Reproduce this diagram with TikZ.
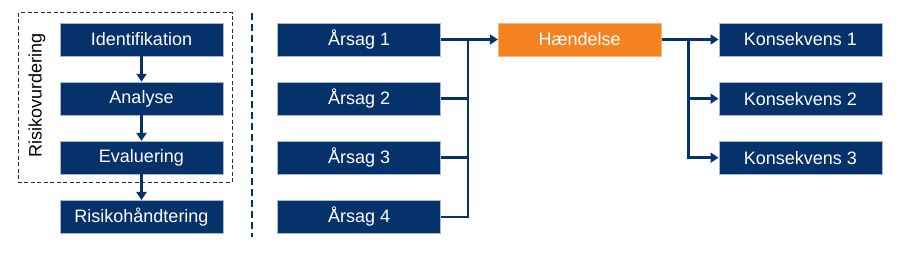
\documentclass[tikz,border=0pt]{standalone}
\usepackage{fontspec}
\setmainfont{Liberation Sans}
\usepackage{xcolor}
\usetikzlibrary{arrows.meta, positioning, calc}

\definecolor{navy}{RGB}{6,50,108}
\definecolor{hendorange}{RGB}{245,130,32}

\begin{document}
\begin{tikzpicture}[
    node distance=25.5pt and 54pt,
    block/.style={rectangle, draw=navy!35, line width=0.6pt, fill=navy, text=white, minimum width=163pt, minimum height=33pt, inner sep=0pt, font=\fontsize{18}{21}\selectfont},
    line/.style={draw=navy, line width=2.4pt},
    arrow/.style={line, -{Triangle[length=8pt,width=10pt]}},
    frame/.style={draw=navy, line width=1.1pt, dash pattern=on 4pt off 2.5pt},
    sep/.style={draw=navy, line width=2.6pt, dash pattern=on 7pt off 4pt}
]
\useasboundingbox (0,0) rectangle (898pt,-253pt);

% Left: risk process
\node [block] (ident) at (141.5pt,-39.5pt) {Identifikation};
\node [block, below=of ident] (anal) {Analyse};
\node [block, below=of anal] (eval) {Evaluering};
\node [block, below=of eval] (handt) {Risikoh\aa ndtering};
\node [rotate=90, font=\fontsize{18}{21}\selectfont] (lbl) at (37pt,-95pt) {Risikovurdering};

\draw [arrow] (ident) -- (anal);
\draw [arrow] (anal) -- (eval);
\draw [arrow] (eval) -- (handt);
\draw [frame] ($(ident.north west)+(-41pt,10pt)$) rectangle ($(eval.south east)+(9pt,-8pt)$);

% Separator
\coordinate (septop) at (252pt,-13pt);
\coordinate (sepbot) at (252pt,-237pt);
\draw [sep] (septop) -- (sepbot);

% Right: bow-tie
\node [block, right=of ident] (a1) {\AA rsag 1};
\node [block, below=of a1] (a2) {\AA rsag 2};
\node [block, below=of a2] (a3) {\AA rsag 3};
\node [block, below=of a3] (a4) {\AA rsag 4};
\node [block, right=57pt of a1, fill=hendorange, draw=hendorange!60] (hend) {H\ae ndelse};
\node [block, right=57pt of hend] (k1) {Konsekvens 1};
\node [block, below=of k1] (k2) {Konsekvens 2};
\node [block, below=of k2] (k3) {Konsekvens 3};

\coordinate (jin) at ($(a1.east)+(27pt,0)$);
\coordinate (jout) at ($(hend.east)+(27pt,0)$);

\draw [arrow] (a1) -- (hend);
\draw [line] (a4.east) -| (jin);
\draw [line] (a2.east) -- (a2.east -| jin);
\draw [line] (a3.east) -- (a3.east -| jin);

\draw [arrow] (hend) -- (k1);
\draw [arrow] (jout) |- (k3);
\draw [arrow] (jout |- k2) -- (k2);
\end{tikzpicture}
\end{document}
